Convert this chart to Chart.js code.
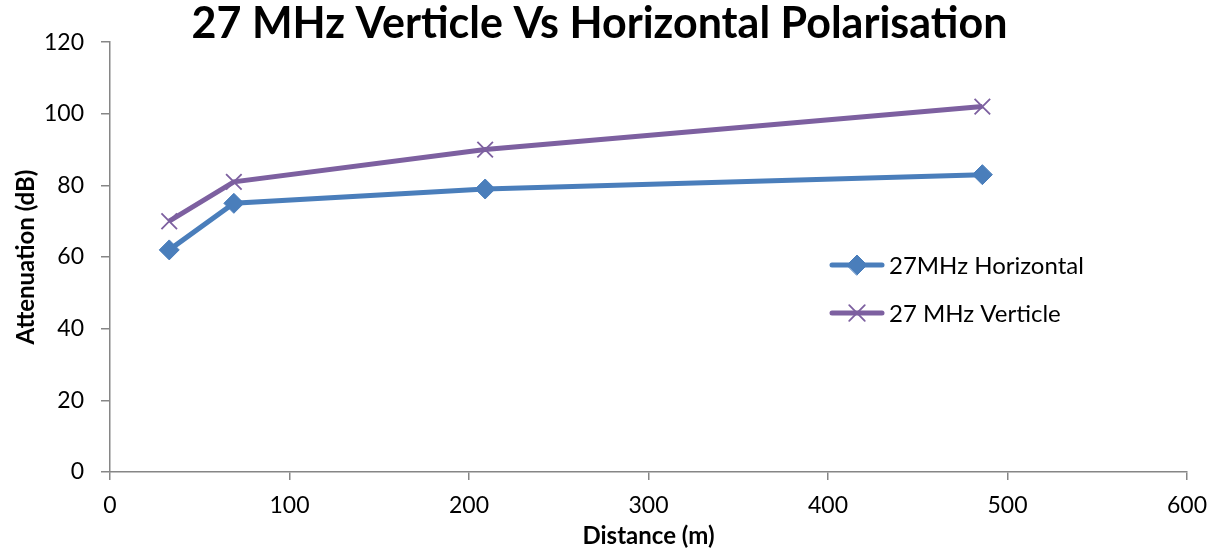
<!DOCTYPE html>
<html lang="en">

<head>
    <meta charset="UTF-8">
    <title>27 MHz Verticle Vs Horizontal Polarisation</title>
    <script src="https://cdn.jsdelivr.net/npm/chart.js"></script>
    <style>
        html, body {
            margin: 0;
            padding: 0;
            background: #ffffff;
        }
        .chart-container {
            width: 1219px;
            height: 552px;
        }
    </style>
</head>

<body>
    <div class="chart-container">
        <canvas id="polChart"></canvas>
    </div>

    <script>
        // distances in metres, attenuation in dB
        const distances = [33, 69, 209, 486];
        const horizontal = [62, 75, 79, 83];
        const verticle = [70, 81, 90, 102];
        const seriesNames = ['27MHz Horizontal', '27 MHz Verticle'];

        const blue = '#4a7ebb';
        const purple = '#7d60a0';
        const axisGrey = '#868686';
        const fontFamily = 'Lato, "Open Sans", sans-serif';

        function toPoints(ys) {
            return distances.map((d, i) => ({ x: d, y: ys[i] }));
        }

        // Excel-style legend sitting inside the plot area
        const insideLegend = {
            id: 'insideLegend',
            afterDraw(chart) {
                const ctx = chart.ctx;
                const rows = [265, 313];
                chart.data.datasets.forEach((ds, i) => {
                    const y = rows[i];
                    ctx.save();
                    ctx.strokeStyle = ds.borderColor;
                    ctx.lineWidth = 5;
                    ctx.lineCap = 'round';
                    ctx.beginPath();
                    ctx.moveTo(832, y);
                    ctx.lineTo(882, y);
                    ctx.stroke();
                    ctx.fillStyle = ds.pointBackgroundColor;
                    ctx.strokeStyle = ds.pointBorderColor;
                    ctx.lineWidth = ds.pointBorderWidth;
                    Chart.helpers.drawPoint(ctx, {
                        pointStyle: ds.pointStyle,
                        radius: ds.pointRadius,
                        rotation: 0,
                        borderWidth: ds.pointBorderWidth
                    }, 857, y);
                    ctx.fillStyle = '#000000';
                    ctx.font = '24px ' + fontFamily;
                    ctx.textBaseline = 'middle';
                    ctx.textAlign = 'left';
                    ctx.fillText(ds.label, 889, y + 1);
                    ctx.restore();
                });
            }
        };

        const config = {
            type: 'line',
            data: {
                datasets: [
                    {
                        label: seriesNames[0],
                        data: toPoints(horizontal),
                        borderColor: blue,
                        backgroundColor: blue,
                        borderWidth: 5,
                        pointStyle: 'rectRot',
                        pointRadius: 10,
                        pointBackgroundColor: blue,
                        pointBorderColor: blue,
                        pointBorderWidth: 1,
                        tension: 0
                    },
                    {
                        label: seriesNames[1],
                        data: toPoints(verticle),
                        borderColor: purple,
                        backgroundColor: purple,
                        borderWidth: 5,
                        pointStyle: 'crossRot',
                        pointRadius: 11,
                        pointBackgroundColor: purple,
                        pointBorderColor: purple,
                        pointBorderWidth: 1.8,
                        tension: 0
                    }
                ]
            },
            options: {
                responsive: true,
                maintainAspectRatio: false,
                animation: false,
                layout: {
                    padding: { left: 10, right: 30, top: 0, bottom: 0 }
                },
                scales: {
                    x: {
                        type: 'linear',
                        min: 0,
                        max: 600,
                        afterFit(scale) { scale.height = 80; },
                        ticks: {
                            stepSize: 100,
                            color: '#000000',
                            padding: 12,
                            font: { family: fontFamily, size: 23 }
                        },
                        grid: {
                            drawOnChartArea: false,
                            color: axisGrey,
                            tickLength: 8,
                            lineWidth: 1.5
                        },
                        border: { color: axisGrey, width: 1.5 },
                        title: {
                            display: true,
                            text: 'Distance (m)',
                            color: '#000000',
                            padding: { top: 0, bottom: 1 },
                            font: { family: fontFamily, size: 24, weight: 'bold' }
                        }
                    },
                    y: {
                        min: 0,
                        max: 120,
                        afterFit(scale) { scale.width = 100; },
                        ticks: {
                            stepSize: 20,
                            color: '#000000',
                            padding: 17,
                            font: { family: fontFamily, size: 23 }
                        },
                        grid: {
                            drawOnChartArea: false,
                            color: axisGrey,
                            tickLength: 9,
                            lineWidth: 1.5
                        },
                        border: { color: axisGrey, width: 1.5 },
                        title: {
                            display: true,
                            text: 'Attenuation (dB)',
                            color: '#000000',
                            padding: { top: 2, bottom: 0 },
                            font: { family: fontFamily, size: 24, weight: 'bold' }
                        }
                    }
                },
                plugins: {
                    legend: { display: false },
                    tooltip: { enabled: false },
                    title: {
                        display: true,
                        text: '27 MHz Verticle Vs Horizontal Polarisation',
                        color: '#000000',
                        padding: { top: 6, bottom: 0 },
                        font: { family: fontFamily, size: 43, weight: 'bold', lineHeight: 0.84 }
                    }
                }
            },
            plugins: [insideLegend]
        };

        const ctx = document.getElementById('polChart').getContext('2d');
        new Chart(ctx, config);
    </script>
</body>

</html>
